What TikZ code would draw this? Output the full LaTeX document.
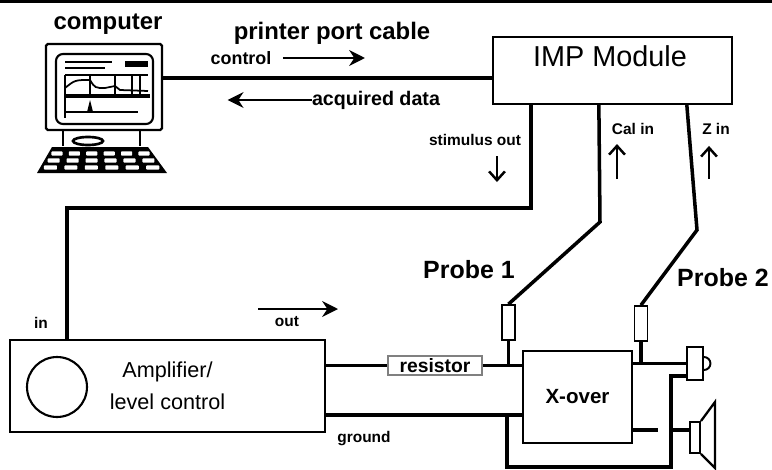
\documentclass[tikz,border=0pt]{standalone}
\usepackage{fontspec}
\setmainfont{Liberation Sans}
\usetikzlibrary{arrows.meta}

\tikzset{
  wire/.style={line width=2pt},
  box/.style={draw, line width=1.3pt, inner sep=0pt},
  sig/.style={line width=1.3pt, -{Stealth[length=9pt,width=9pt]}},
  tick/.style={line width=1.4pt, -{Straight Barb[length=5pt,width=9pt]}},
  tag/.style={font=\fontsize{8.8}{10}\selectfont\bfseries, inner sep=0pt},
  title/.style={font=\fontsize{13.6}{15}\selectfont\bfseries, inner sep=0pt},
  probelbl/.style={font=\fontsize{14.2}{16}\selectfont\bfseries, inner sep=0pt},
}

\begin{document}
\begin{tikzpicture}[x=0.02cm, y=-0.02cm]
\useasboundingbox (0,0) rectangle (772,470);
\draw[line width=1.4pt] (0,1.5) -- (772,1.5);

% computer: monitor, stand and keyboard
\node[box, rounded corners=1pt, minimum width=2.32cm, minimum height=1.72cm] (comp) at (104,87) {};
\draw[line width=1.2pt, rounded corners=4pt] (56,54) rectangle (153,124);
\draw[line width=1.2pt] (65,62) -- (112,62) (65,68) -- (105,68);
\fill (125,61) rectangle (148,67);
\draw[line width=1pt] (65,75) -- (148,75) (65,75) -- (65,118);
\draw[line width=1pt] (90,75) -- (90,95) (115,75) -- (115,95) (132,75) -- (132,95) (140,75) -- (140,95);
\draw[line width=1pt] (65,88) .. controls (75,80) .. (90,80) .. controls (95,88) .. (105,88) -- (115,86) -- (120,90) -- (148,91);
\draw[line width=2.2pt] (65,96) -- (150,96);
\draw[line width=1pt] (65,112) -- (138,112);
\fill (90,100) -- (93,112) -- (87,112) -- cycle;
\draw[line width=1.5pt] (63,130) -- (63,146) (140,130) -- (140,146);
\draw[line width=1.5pt] (88,141) ellipse [x radius=15, y radius=4];
\fill (52,147) -- (148,147) -- (167,173) -- (37,173) -- cycle;
\foreach \yy in {153.5,160.5,167.5} {
  \pgfmathsetmacro\kl{52-(\yy-147)*15/26}
  \pgfmathsetmacro\kp{(96+(\yy-147)*34/26)/6}
  \foreach \c in {0,...,5}
    \fill[white, rounded corners=0.5pt] (\kl+\c*\kp+0.18*\kp,\yy-2.2) rectangle ++(0.64*\kp,4.4);
}
\node[title] (pcname) at (108,24) {computer};

% printer port cable
\node[title] (cablename) at (332,33) {printer port cable};
\node[font=\fontsize{10.2}{12}\selectfont\bfseries, inner sep=0pt] (ctl) at (241,58) {control};
\draw[sig] ([xshift=0.84cm]ctl.center) -- ++(82,0);
\node[font=\fontsize{11.2}{13}\selectfont\bfseries, inner sep=0pt] (acq) at (376,100) {acquired data};
\draw[sig] (acq.west) -- ++(-84,0);

% IMP module
\node[box, minimum width=4.78cm, minimum height=1.34cm] (imp) at (612.5,70.5) {};
\node[font=\fontsize{16.4}{18}\selectfont, inner sep=0pt] (impname) at (610,56) {IMP Module};
\coordinate (cable) at (0,78);
\draw[wire, line width=2.3pt] (comp.east |- cable) -- (imp.west |- cable);

% amplifier
\node[box, minimum width=6.3cm, minimum height=1.84cm, align=center,
      font=\fontsize{12.3}{18}\selectfont] (amp) at (167.5,386) {Amplifier/\\level control};
\node[draw, circle, line width=1.2pt, minimum size=1.2cm] (knob) at (57,387) {};
\node[tag] (inlbl) at (41,323) {in};
\node[tag] (outlbl) at (287,322) {out};
\draw[sig] ([xshift=-0.58cm, yshift=0.26cm]outlbl.center) -- ++(80,0);
\node[tag] (gndlbl) at (364,439) {ground};

% stimulus from the module to the amplifier input
\coordinate (stim) at (300,208);
\draw[wire] ([xshift=0.78cm]imp.south west) |- (stim) -| ([xshift=1.16cm]amp.north west);
\node[tag] (stimlbl) at (475,140) {stimulus out};
\draw[tick] ([xshift=0.44cm, yshift=-0.2cm]stimlbl.south) -- ++(0,26);

% series resistor and crossover
\node[draw=gray, line width=0.6pt, minimum width=1.88cm, minimum height=0.38cm, inner sep=0pt,
      font=\fontsize{11}{12}\selectfont\bfseries] (res) at (435,365.5) {resistor};
\node[box, minimum width=2.18cm, minimum height=1.84cm,
      font=\fontsize{11.7}{13}\selectfont\bfseries] (xover) at (577.5,397) {X-over};
\draw[wire] (amp.east |- res.west) -- (res.west);
\draw[wire] (res.east) -- (xover.west |- res.east);
\coordinate (gnd) at (0,415);
\draw[wire] (amp.east |- gnd) -- (xover.west |- gnd);

% drivers
\node[box, line width=1.1pt, minimum width=0.32cm, minimum height=0.66cm] (tweeter) at (695,363.5) {};
\draw[line width=1.1pt] ([yshift=0.13cm]tweeter.east) arc[start angle=90, end angle=-90, radius=0.13cm];
\node[box, line width=1.1pt, minimum width=0.2cm, minimum height=0.62cm] (woofer) at (695,437.5) {};
\draw[line width=1.3pt] (woofer.north east) -- (715,402) -- (715,468) -- (woofer.south east);
\draw[wire] (xover.east |- tweeter.west) -- (tweeter.west);
\coordinate (wf) at (0,430);
\coordinate (wend) at (658,430);
\draw[wire] (xover.east |- wf) -- (wend);
\coordinate (gtap) at (507,415);
\coordinate (gbot) at (671,467);
\draw[wire] (gtap) |- (gbot) |- ([yshift=0.1cm]tweeter.south west);
\draw[wire] (gbot |- wf) -- (woofer.west |- wf);

% probes
\node[box, line width=1pt, minimum width=0.26cm, minimum height=0.7cm] (probeA) at (508.5,322.5) {};
\node[box, line width=1pt, minimum width=0.26cm, minimum height=0.7cm] (probeB) at (641,323.5) {};
\draw[wire] (probeA.south) -- (probeA.south |- res.east);
\draw[wire] (probeB.south) -- (probeB.south |- tweeter.west);
\coordinate (calbend) at (600,222);
\coordinate (zbend) at (697,230);
\draw[wire] ([xshift=2.14cm]imp.south west) -- (calbend) -- (probeA.north);
\draw[wire] ([xshift=3.9cm]imp.south west) -- (zbend) -- (probeB.north);
\node[probelbl] (p1lbl) at (469,270) {Probe 1};
\node[probelbl] (p2lbl) at (723,278) {Probe 2};
\node[tag] (callbl) at (633,129) {Cal in};
\draw[tick] ([xshift=-0.32cm, yshift=-0.88cm]callbl.south) -- ++(0,-35);
\node[tag] (zlbl) at (716,129) {Z in};
\draw[tick] ([xshift=-0.14cm, yshift=-0.88cm]zlbl.south) -- ++(0,-33);
\end{tikzpicture}
\end{document}
